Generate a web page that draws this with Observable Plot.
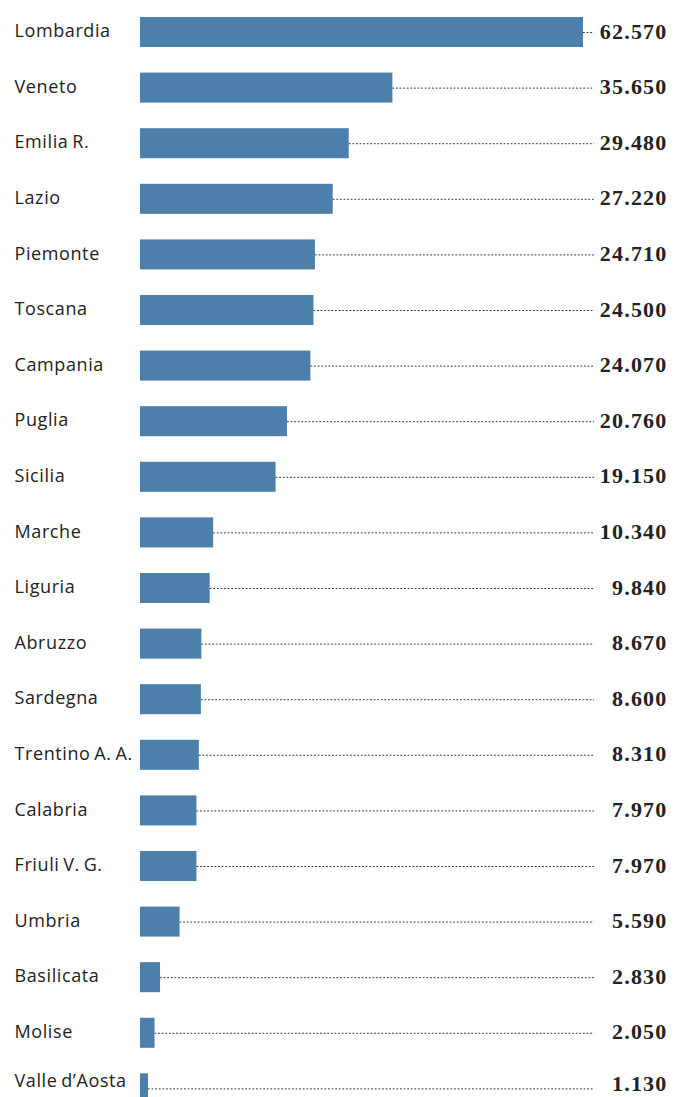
<!DOCTYPE html>
<html>
<head>
<meta charset="utf-8">
<script src="https://cdn.jsdelivr.net/npm/d3@7"></script>
<script src="https://cdn.jsdelivr.net/npm/@observablehq/plot@0.6"></script>
<style>
  html, body { margin: 0; padding: 0; background: #fff; overflow: hidden; }
  #chart svg { display: block; }
  .lbl-name { letter-spacing: 0.6px; word-spacing: -1.5px; }
  .lbl-value { letter-spacing: 1.2px; }
</style>
</head>
<body>
<div id="chart"></div>
<script>
const regions = ["Lombardia", "Veneto", "Emilia R.", "Lazio", "Piemonte", "Toscana", "Campania", "Puglia", "Sicilia", "Marche", "Liguria", "Abruzzo", "Sardegna", "Trentino A. A.", "Calabria", "Friuli V. G.", "Umbria", "Basilicata", "Molise", "Valle d’Aosta"];
const values = [62570, 35650, 29480, 27220, 24710, 24500, 24070, 20760, 19150, 10340, 9840, 8670, 8600, 8310, 7970, 7970, 5590, 2830, 2050, 1130];
const leaderEnd = 64124; // end of the x scale, where the dotted leaders stop

const data = regions.map((name, i) => ({name, value: values[i]}));
const lastName = regions[regions.length - 1];
const itFmt = d3.formatLocale({decimal: ",", thousands: ".", grouping: [3], currency: ["€", ""]}).format(",d");

const nameOpts = {y: "name", text: "name", frameAnchor: "left", dx: 14, textAnchor: "start", fill: "#222", fontSize: 18, fontFamily: "'Open Sans', sans-serif"};
const valueOpts = {y: "name", text: d => itFmt(d.value), frameAnchor: "right", textAnchor: "end", fill: "#222", fontSize: 22, fontWeight: "bold", fontFamily: "'Liberation Serif', serif"};

const W = 677, H = 1097;
const chart = Plot.plot({
  width: W,
  height: H,
  marginLeft: 0,
  marginRight: 10,
  marginTop: 0,
  marginBottom: 0,
  style: {background: "#fff"},
  x: {domain: [0, leaderEnd], range: [140, 594], axis: null},
  y: {domain: regions, range: [17, 1103.4], paddingInner: 0.46, paddingOuter: 0, round: false, axis: null},
  marks: [
    Plot.ruleY(data, {y: "name", x1: "value", x2: leaderEnd, stroke: "#333", strokeWidth: 1, strokeDasharray: "1.8,1.8"}),
    Plot.barX(data, {y: "name", x: "value", fill: "#4c80ab"}),
    Plot.text(data, {...nameOpts, filter: d => d.name !== lastName, dy: -1}),
    Plot.text(data, {...nameOpts, filter: d => d.name === lastName, dy: -8}),
    Plot.text(data, {...valueOpts, filter: d => d.name !== lastName, dy: -1}),
    Plot.text(data, {...valueOpts, filter: d => d.name === lastName, dy: -5})
  ]
});
const textGroups = chart.querySelectorAll('g[aria-label="text"]');
textGroups.forEach((g, i) => g.classList.add(i < 2 ? "lbl-name" : "lbl-value"));
document.getElementById("chart").appendChild(chart);
</script>
</body>
</html>
